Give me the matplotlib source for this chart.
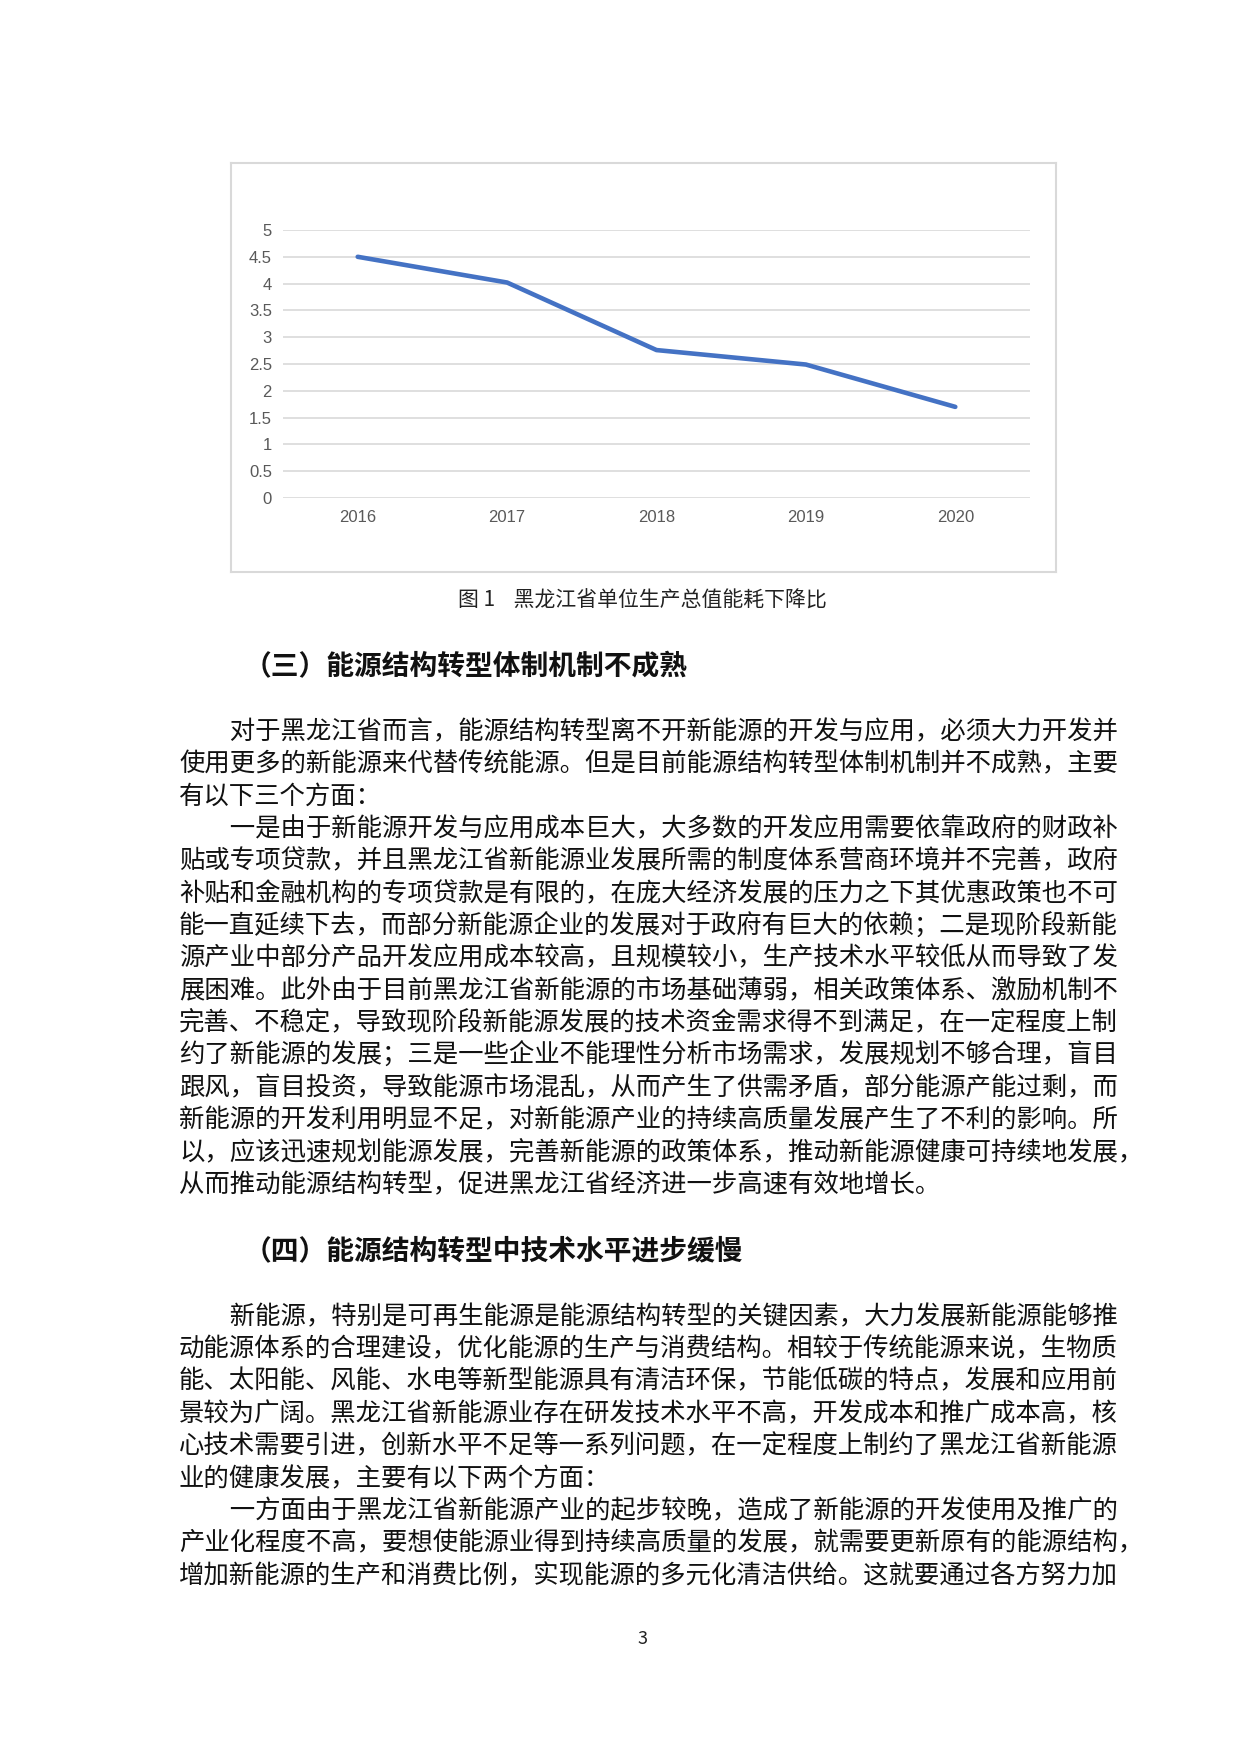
import matplotlib
matplotlib.use("Agg")
import matplotlib.pyplot as plt

years = ["2016", "2017", "2018", "2019", "2020"]
values = [4.5, 4.02, 2.76, 2.49, 1.7]
yticks = [0, 0.5, 1, 1.5, 2, 2.5, 3, 3.5, 4, 4.5, 5]
ytick_labels = ["0", "0.5", "1", "1.5", "2", "2.5", "3", "3.5", "4", "4.5", "5"]

caption = "图 1    黑龙江省单位生产总值能耗下降比"
heading1 = "（三）能源结构转型体制机制不成熟"
para1 = [
    "　　对于黑龙江省而言，能源结构转型离不开新能源的开发与应用，必须大力开发并",
    "使用更多的新能源来代替传统能源。但是目前能源结构转型体制机制并不成熟，主要",
    "有以下三个方面：",
    "　　一是由于新能源开发与应用成本巨大，大多数的开发应用需要依靠政府的财政补",
    "贴或专项贷款，并且黑龙江省新能源业发展所需的制度体系营商环境并不完善，政府",
    "补贴和金融机构的专项贷款是有限的，在庞大经济发展的压力之下其优惠政策也不可",
    "能一直延续下去，而部分新能源企业的发展对于政府有巨大的依赖；二是现阶段新能",
    "源产业中部分产品开发应用成本较高，且规模较小，生产技术水平较低从而导致了发",
    "展困难。此外由于目前黑龙江省新能源的市场基础薄弱，相关政策体系、激励机制不",
    "完善、不稳定，导致现阶段新能源发展的技术资金需求得不到满足，在一定程度上制",
    "约了新能源的发展；三是一些企业不能理性分析市场需求，发展规划不够合理，盲目",
    "跟风，盲目投资，导致能源市场混乱，从而产生了供需矛盾，部分能源产能过剩，而",
    "新能源的开发利用明显不足，对新能源产业的持续高质量发展产生了不利的影响。所",
    "以，应该迅速规划能源发展，完善新能源的政策体系，推动新能源健康可持续地发展，",
    "从而推动能源结构转型，促进黑龙江省经济进一步高速有效地增长。",
]
heading2 = "（四）能源结构转型中技术水平进步缓慢"
para2 = [
    "　　新能源，特别是可再生能源是能源结构转型的关键因素，大力发展新能源能够推",
    "动能源体系的合理建设，优化能源的生产与消费结构。相较于传统能源来说，生物质",
    "能、太阳能、风能、水电等新型能源具有清洁环保，节能低碳的特点，发展和应用前",
    "景较为广阔。黑龙江省新能源业存在研发技术水平不高，开发成本和推广成本高，核",
    "心技术需要引进，创新水平不足等一系列问题，在一定程度上制约了黑龙江省新能源",
    "业的健康发展，主要有以下两个方面：",
    "　　一方面由于黑龙江省新能源产业的起步较晚，造成了新能源的开发使用及推广的",
    "产业化程度不高，要想使能源业得到持续高质量的发展，就需要更新原有的能源结构，",
    "增加新能源的生产和消费比例，实现能源的多元化清洁供给。这就要通过各方努力加",
]

W, H = 1240, 1754
fig = plt.figure(figsize=(W / 100, H / 100), dpi=100)
fig.patch.set_facecolor("white")
cjk = ["Noto Sans CJK SC", "DejaVu Sans"]

frame = fig.add_axes([231 / W, 1 - 572 / H, (1056 - 231) / W, (572 - 163) / H])
frame.set_xticks([]); frame.set_yticks([])
for s in frame.spines.values():
    s.set_color("#d9d9d9"); s.set_linewidth(1.5)

ax = fig.add_axes([283 / W, 1 - 498 / H, (1030 - 283) / W, (498 - 230) / H])
x = list(range(len(years)))
ax.plot(x, values, color="#4472C4", linewidth=3.3, solid_capstyle="round")
ax.set_xlim(-0.5, len(years) - 0.5)
ax.set_ylim(0, 5)
ax.set_yticks(yticks)
ax.set_yticklabels(ytick_labels)
ax.set_xticks(x)
ax.set_xticklabels(years)
ax.grid(axis="y", color="#d9d9d9", linewidth=1.2)
ax.set_axisbelow(True)
for s in ax.spines.values():
    s.set_visible(False)
ax.tick_params(length=0, labelsize=12, labelcolor="#595959", pad=8)
ax.tick_params(axis="x", pad=9)
for lab in ax.get_xticklabels() + ax.get_yticklabels():
    lab.set_family(["Liberation Sans Narrow", "Liberation Sans", "DejaVu Sans"])
ax.patch.set_alpha(0)

def px(xp, yp):
    return xp / W, 1 - yp / H

fig.text(*px(642, 601), caption, family=cjk, fontsize=15, ha="center", va="center", color="#222")
fig.text(*px(244, 667), heading1, family=cjk, fontsize=20, weight="bold", ha="left", va="center", color="#111")
y0, dy = 732, 32.4
for i, line in enumerate(para1):
    fig.text(*px(179, y0 + i * dy), line, family=cjk, fontsize=18.3, ha="left", va="center", color="#111")
fig.text(*px(244, 1251), heading2, family=cjk, fontsize=20, weight="bold", ha="left", va="center", color="#111")
y1 = 1317
for i, line in enumerate(para2):
    fig.text(*px(179, y1 + i * dy), line, family=cjk, fontsize=18.3, ha="left", va="center", color="#111")
fig.text(*px(642, 1639), "3", family=cjk, fontsize=13, ha="center", va="center", color="#222")

fig.savefig("out.png", dpi=100, facecolor="white")
